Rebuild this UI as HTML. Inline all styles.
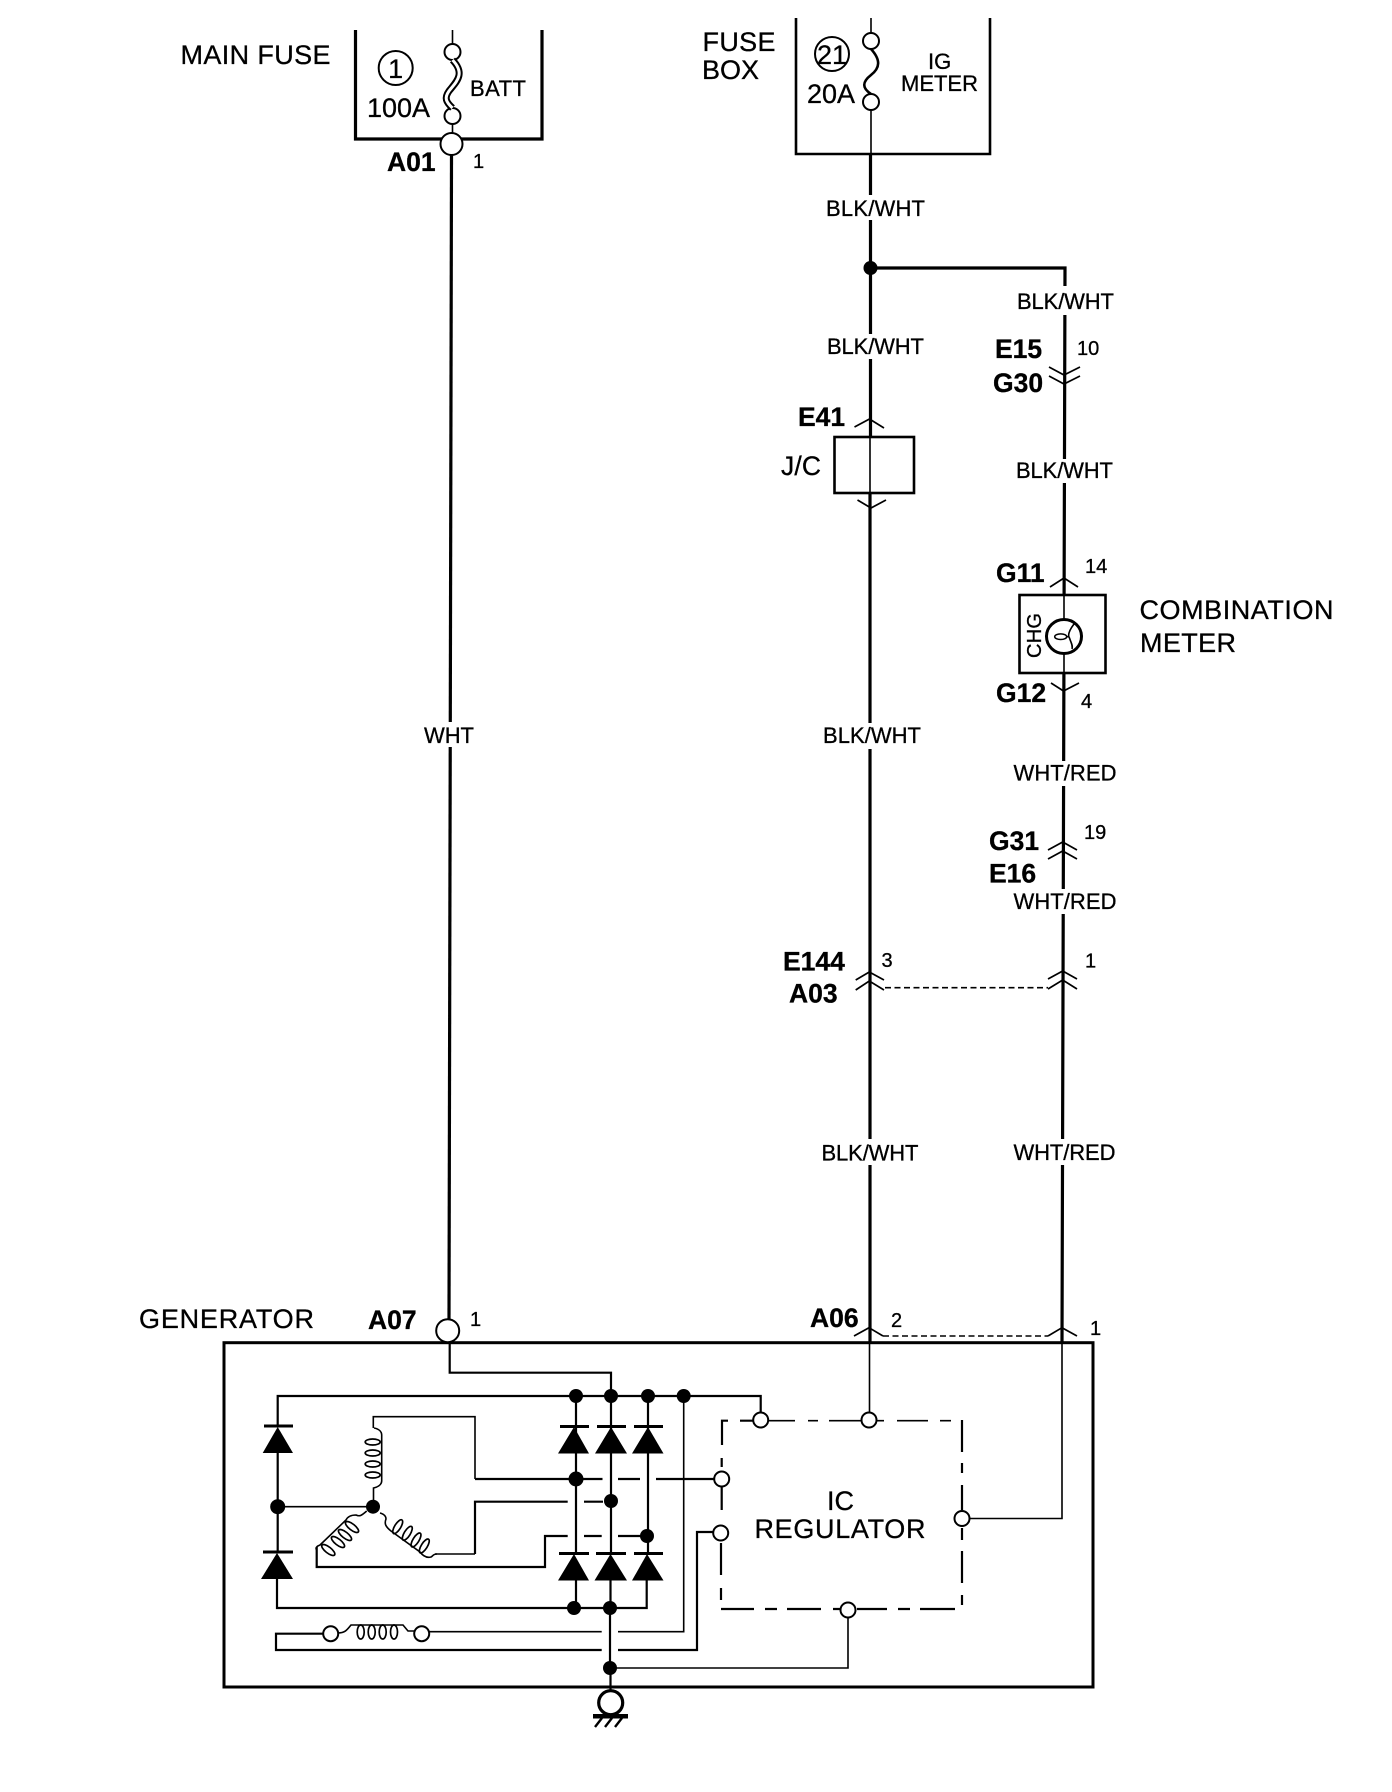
<!DOCTYPE html>
<html><head><meta charset="utf-8"><style>
html,body{margin:0;padding:0;background:#fff;width:1392px;height:1792px;overflow:hidden}
svg{display:block}
text{font-family:"Liberation Sans",sans-serif;fill:#000;stroke:#000;stroke-width:.3}
.l{font-size:27px}.b{font-size:26.5px;font-weight:bold}.w{font-size:22px}.n{font-size:20px}
.t{fill:none;stroke:#000;stroke-width:1.6}.m{fill:none;stroke:#000;stroke-width:2.2}.k{fill:none;stroke:#000;stroke-width:3.2}
.d{fill:#000;stroke:none}.o{fill:#fff;stroke:#000;stroke-width:2}
.c{fill:none;stroke:#000;stroke-width:1.7}
</style></head><body>
<svg width="1392" height="1792" viewBox="0 0 1392 1792" xmlns="http://www.w3.org/2000/svg">
<rect width="1392" height="1792" fill="#fff"/>

<!-- main wires -->
<path class="k" d="M451.5 155L449 1320"/>
<path class="t" d="M452.5 30V44M452.5 124V134"/>
<path class="t" d="M871 18V33M871 110V154"/>
<path class="k" d="M870.5 154V437M870 493V1343"/>
<path class="t" d="M870 437V493M869.5 1343V1413"/>
<path class="k" d="M870.5 268H1065L1064.1 595M1063.9 674L1062 1343"/>
<path class="t" d="M1064 595V620M1064 653V674"/>
<path class="t" d="M1062 1343V1518.5H970"/>

<!-- fuse boxes -->
<path class="k" d="M355.5 30V139H542V30"/>
<path class="k" d="M796 18V154H990V18" style="stroke-width:2.6"/>
<circle class="o" cx="452.5" cy="52" r="8"/><circle class="o" cx="452.5" cy="116" r="8"/>
<path d="M452.5 60C466 74 456 82 449 91C444 98 446 102 452.5 108" fill="none" stroke="#000" stroke-width="7"/>
<path d="M452.5 60C466 74 456 82 449 91C444 98 446 102 452.5 108" fill="none" stroke="#fff" stroke-width="3"/>
<circle class="o" cx="451.5" cy="144" r="11"/>
<circle class="o" cx="395.7" cy="68" r="17"/>
<text class="l" x="395.7" y="78" text-anchor="middle">1</text>
<text class="l" x="367" y="117" textLength="63">100A</text>
<text class="w" x="470" y="96" textLength="56">BATT</text>
<text class="l" x="180.5" y="64" textLength="150">MAIN FUSE</text>
<text class="b" x="387" y="171">A01</text>
<text class="n" x="473" y="168">1</text>

<circle class="o" cx="871" cy="41" r="8"/><circle class="o" cx="871" cy="102" r="8"/>
<path d="M871 49C881 60 880 68 871 75C862 82 862 88 871 94" fill="none" stroke="#000" stroke-width="2.6"/>
<circle class="o" cx="832" cy="54" r="17"/>
<text class="l" x="832" y="64" text-anchor="middle">21</text>
<text class="l" x="807" y="103">20A</text>
<text class="w" x="928" y="69">IG</text>
<text class="w" x="901" y="91" textLength="77">METER</text>
<text class="l" x="702.5" y="51" textLength="73">FUSE</text>
<text class="l" x="702" y="79" textLength="57">BOX</text>

<circle class="d" cx="870.5" cy="268" r="7"/>

<!-- wire labels -->
<g fill="#fff">
<rect x="826" y="195" width="99" height="25"/><rect x="1017" y="286" width="97" height="29"/>
<rect x="828" y="334" width="97" height="25"/><rect x="1017" y="459" width="97" height="24"/>
<rect x="424" y="722" width="50" height="25"/><rect x="823" y="723" width="98" height="26"/>
<rect x="1014" y="761" width="103" height="25"/><rect x="1014" y="889" width="103" height="25"/>
<rect x="822" y="1139" width="96" height="26"/><rect x="1014" y="1139" width="101" height="26"/>
</g>
<text class="w" x="826" y="216" textLength="99">BLK/WHT</text>
<text class="w" x="1017" y="309" textLength="97">BLK/WHT</text>
<text class="w" x="827" y="354" textLength="97">BLK/WHT</text>
<text class="w" x="1016" y="478" textLength="97">BLK/WHT</text>
<text class="w" x="424" y="743" textLength="50">WHT</text>
<text class="w" x="823" y="743" textLength="98">BLK/WHT</text>
<text class="w" x="1013.5" y="780.5" textLength="103">WHT/RED</text>
<text class="w" x="1013.5" y="909" textLength="103">WHT/RED</text>
<text class="w" x="821.5" y="1160.5" textLength="97">BLK/WHT</text>
<text class="w" x="1013.5" y="1160" textLength="102">WHT/RED</text>

<!-- connectors right column -->
<text class="b" x="995" y="358">E15</text><text class="n" x="1077" y="355">10</text>
<text class="b" x="993" y="392">G30</text>
<path class="c" d="M1049 367L1064 375L1080 367M1049 376L1064 384L1080 376"/>
<text class="b" x="798" y="426">E41</text>
<path class="c" d="M854.5 427L869.5 419L884 428"/>
<rect x="834.5" y="437" width="79.5" height="56" fill="none" stroke="#000" stroke-width="2.6"/>
<text class="w" x="781" y="475" style="font-size:26.5px" textLength="40">J/C</text>
<path class="c" d="M857.5 500L871 508L886 500"/>

<text class="b" x="996" y="582">G11</text><text class="n" x="1085" y="573">14</text>
<path class="c" d="M1050 587L1064 578L1078 587"/>
<rect x="1019.5" y="595" width="86" height="78" fill="none" stroke="#000" stroke-width="2.6"/>
<ellipse cx="1064" cy="636.5" rx="17.5" ry="17" fill="#fff" stroke="#000" stroke-width="3"/>
<ellipse cx="1060.7" cy="636.7" rx="6" ry="2.8" fill="none" stroke="#000" stroke-width="1.5"/>
<path class="t" d="M1074 624C1068 632 1068 636 1069.5 638C1071 643 1073 645 1072 649M1066.7 636.7H1069.5"/>
<text class="n" transform="translate(1041 658) rotate(-90)" textLength="45">CHG</text>
<text class="b" x="996" y="702">G12</text>
<path class="c" d="M1051 683L1063.5 691L1079 683"/>
<text class="n" x="1081" y="708">4</text>
<text class="l" x="1139.5" y="619" textLength="194">COMBINATION</text>
<text class="l" x="1140" y="652" textLength="96">METER</text>

<text class="b" x="989" y="850">G31</text><text class="n" x="1084" y="839">19</text>
<path class="c" d="M1048 850L1062.7 842L1077 850M1048 859L1062.7 851L1077 859"/>
<text class="b" x="989" y="882.5">E16</text>

<text class="b" x="783" y="970.5">E144</text>
<text class="b" x="789" y="1002.5">A03</text>
<text class="n" x="881.5" y="967">3</text>
<text class="n" x="1085" y="967.5">1</text>
<path class="c" d="M855.7 980L869.3 972L884 980M855.7 990L869.3 981L884 990"/>
<path class="c" d="M1048 979L1062.7 971L1077 979M1048 989L1062.7 980L1077 989"/>
<path class="t" d="M885 987.7H1048" stroke-dasharray="6 3.5"/>

<!-- generator -->
<text class="l" x="139" y="1328" textLength="175">GENERATOR</text>
<text class="b" x="368" y="1329">A07</text>
<text class="n" x="470" y="1326">1</text>
<text class="b" x="810" y="1327">A06</text>
<text class="n" x="891" y="1327">2</text>
<text class="n" x="1090" y="1335">1</text>
<rect x="224" y="1342.7" width="869" height="344.3" fill="none" stroke="#000" stroke-width="3"/>
<circle class="o" cx="447.7" cy="1330.7" r="11.5"/>
<path class="c" d="M854 1336L869 1327.7L883 1336"/>
<path class="c" d="M1048 1336L1062 1327.7L1077 1336"/>
<path class="t" d="M883 1336H1048" stroke-dasharray="6 3.5"/>

<!-- internal wiring -->
<path class="m" d="M449.7 1343V1372.7H611V1396"/>
<path class="m" d="M277.7 1426V1396H760.7V1412"/>
<path class="m" d="M277.7 1452V1553M277 1579V1608H646.7V1580"/>
<path class="t" d="M277.7 1506.7H372.7"/>
<path class="m" d="M576 1396V1553M576 1580V1608"/>
<path class="m" d="M611 1396V1553M610.5 1580V1608"/>
<path class="m" d="M648 1396V1553"/>
<path class="m" d="M610 1608V1668"/>
<path class="m" d="M610.5 1668V1690"/>
<path class="t" d="M683.7 1396V1631.7H618M601.7 1631.7H429"/>
<path class="m" d="M475 1479H602.5M618 1479H640M656 1479H714"/>
<path class="t" d="M373.3 1428V1416.7H475V1479"/>
<path class="m" d="M475 1554V1501.7H567.7M584 1501.7H603"/>
<path class="t" d="M475 1554H435"/>
<path class="m" d="M316.7 1547V1567H545V1536H567.7M584 1536H601.7M618 1536H646.7"/>
<path class="m" d="M323 1633.7H276V1650H601.7M618 1650H697V1532H713"/>
<path class="t" d="M610 1668H848V1618"/>

<!-- regulator dashed -->
<path class="m" d="M722 1445V1420.7H728M740 1420.7H753"/>
<path class="t" d="M769 1420.7H795M808 1420.7H818M829 1420.7H862M877 1420.7H884M897 1420.7H928M940 1420.7H951"/>
<path class="m" d="M721.7 1458V1467M721.7 1487V1510M721 1543V1575M721 1588V1600"/>
<path class="m" d="M962 1420V1452M962 1463V1473M962 1485V1510M962 1528V1540M962 1551V1583M962 1595V1605"/>
<path class="m" d="M721 1609H754M765 1609H777M787 1609H821M833 1609H840M857 1609H887M898 1609H910M920 1609H955"/>
<circle class="o" cx="760.7" cy="1420" r="7.5"/>
<circle class="o" cx="869" cy="1420" r="7.5"/>
<circle class="o" cx="721.7" cy="1479" r="7.5"/>
<circle class="o" cx="720.7" cy="1533" r="7.5"/>
<circle class="o" cx="962" cy="1518.5" r="7.5"/>
<circle class="o" cx="848" cy="1610" r="7.5"/>
<text class="l" x="827" y="1510">IC</text>
<text class="l" x="754.5" y="1538" textLength="171">REGULATOR</text>

<!-- junctions -->
<circle class="d" cx="576" cy="1396" r="7"/><circle class="d" cx="611" cy="1396" r="7"/><circle class="d" cx="648" cy="1396" r="7"/><circle class="d" cx="683.7" cy="1396" r="7"/>
<circle class="d" cx="277.7" cy="1506.7" r="7.5"/><circle class="d" cx="373" cy="1506.7" r="7"/>
<circle class="d" cx="576" cy="1479" r="7.5"/><circle class="d" cx="611" cy="1501" r="7"/><circle class="d" cx="647" cy="1536" r="7"/>
<circle class="d" cx="574" cy="1608" r="7"/><circle class="d" cx="610" cy="1608" r="7"/><circle class="d" cx="610" cy="1668" r="7"/>

<!-- diodes -->
<g class="d">
<path d="M277.7 1427L293 1453H262.7Z"/><rect x="264" y="1424.5" width="29" height="3"/>
<path d="M277 1553L293 1579H261Z"/><rect x="263" y="1550.5" width="30" height="3"/>
<path d="M574 1427L589 1453.5H558Z"/><rect x="560" y="1425" width="29" height="3"/>
<path d="M611 1427L627 1453.5H595Z"/><rect x="597" y="1425" width="29" height="3"/>
<path d="M648 1427L663.5 1453.5H632Z"/><rect x="634" y="1425" width="29" height="3"/>
<path d="M574 1554L589 1580.5H558Z"/><rect x="559" y="1552" width="30" height="3"/>
<path d="M610.5 1554L627 1580.5H594.5Z"/><rect x="596" y="1552" width="30" height="3"/>
<path d="M647 1554L663.5 1580.5H632Z"/><rect x="634" y="1552" width="29" height="3"/>
</g>

<!-- stator coils -->
<path class="t" d="M374 1428C379 1429 382 1431 381.7 1436V1480C382 1485 378 1487 373.5 1488V1500"/>
<ellipse class="c" cx="372.7" cy="1442" rx="7.5" ry="3"/><ellipse class="c" cx="372.7" cy="1453" rx="7.5" ry="3"/><ellipse class="c" cx="372.7" cy="1464" rx="7.5" ry="3"/><ellipse class="c" cx="372.7" cy="1475" rx="7.5" ry="3"/>

<ellipse class="c" cx="328.3" cy="1550" rx="8" ry="3" transform="rotate(38 328.3 1550)"/><ellipse class="c" cx="338" cy="1542" rx="8" ry="3" transform="rotate(38 338 1542)"/><ellipse class="c" cx="345" cy="1535" rx="8" ry="3" transform="rotate(38 345 1535)"/><ellipse class="c" cx="352" cy="1527" rx="8" ry="3" transform="rotate(38 352 1527)"/>
<path class="t" d="M316.7 1550C315 1548 317 1546 320 1545L346 1520C348 1516 352 1515 356 1515C360 1517 362 1515 366.7 1511"/>

<ellipse class="c" cx="397.7" cy="1526.7" rx="8" ry="3" transform="rotate(-58 397.7 1526.7)"/><ellipse class="c" cx="407.3" cy="1533.3" rx="8" ry="3" transform="rotate(-58 407.3 1533.3)"/><ellipse class="c" cx="416" cy="1540" rx="8" ry="3" transform="rotate(-58 416 1540)"/><ellipse class="c" cx="424.3" cy="1546" rx="8" ry="3" transform="rotate(-58 424.3 1546)"/>
<path class="t" d="M380 1513C384 1514 386 1516 386 1519C384 1524 386 1527 391 1531L420 1552C423 1556 427 1558 431 1557C433 1556 433 1554 437 1554"/>

<!-- field coil -->
<circle class="o" cx="330.7" cy="1633.7" r="7.5"/><circle class="o" cx="421.7" cy="1633.7" r="7.5"/>
<path class="t" d="M338 1633C345 1633 347 1630 351 1625H403L408 1631H414"/>
<ellipse class="c" cx="360.7" cy="1632" rx="3.5" ry="7"/><ellipse class="c" cx="371.7" cy="1632" rx="3.5" ry="7"/><ellipse class="c" cx="382.7" cy="1632" rx="3.5" ry="7"/><ellipse class="c" cx="394" cy="1632" rx="3.5" ry="7"/>

<!-- ground -->
<circle cx="610.7" cy="1702.7" r="12" fill="#fff" stroke="#000" stroke-width="3.2"/>
<rect x="593" y="1714" width="35" height="4.5" class="d"/>
<path d="M602 1718L595 1727M612 1718L605 1727M622 1718L615 1727" fill="none" stroke="#000" stroke-width="2.4"/>
</svg>
</body></html>
